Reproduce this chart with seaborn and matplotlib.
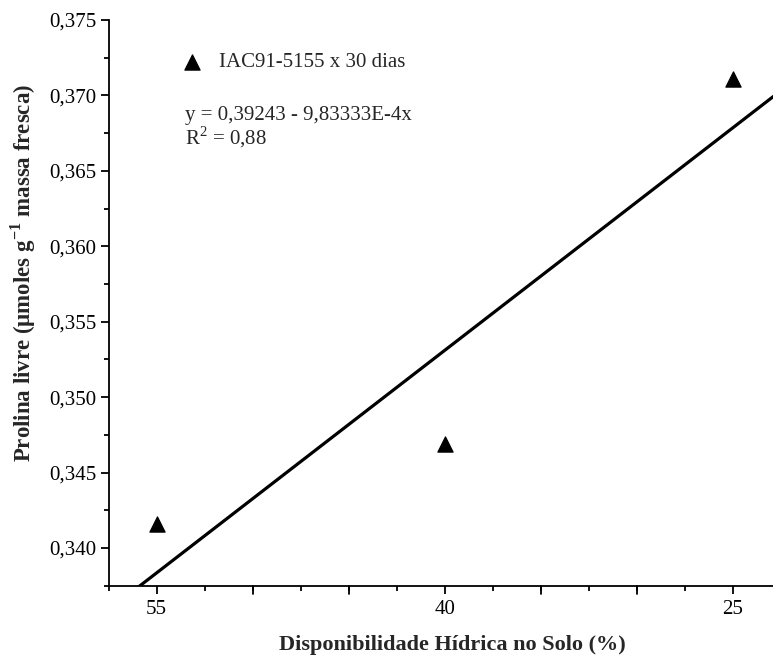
import numpy as np
import pandas as pd
import seaborn as sns
import matplotlib.pyplot as plt
from matplotlib.ticker import MultipleLocator, FixedLocator, FuncFormatter

# data
disponibilidade = [55, 40, 25]
prolina = [0.3416, 0.3469, 0.3711]
serie = "IAC91-5155 x 30 dias"
a, b = 0.39243, -9.83333e-4
eq_text = "y = 0,39243 - 9,83333E-4x"
r2_text = "R$^2$ = 0,88"

sns.set_style("ticks")
plt.rcParams['font.family'] = ['Liberation Serif', 'DejaVu Serif']
plt.rcParams['mathtext.fontset'] = 'custom'
plt.rcParams['mathtext.rm'] = 'Liberation Serif'
plt.rcParams['mathtext.bf'] = 'Liberation Serif:bold'

df = pd.DataFrame({"x": disponibilidade, "y": prolina, "serie": serie})
fit_x = np.array([58.0, 22.0])
fit = pd.DataFrame({"x": fit_x, "y": a + b * fit_x})

fig = plt.figure(figsize=(7.73, 6.56), dpi=100)
ax = fig.add_axes([0.1405, 0.1072, 0.8595, 0.8623])

sns.lineplot(data=fit, x="x", y="y", color="black", linewidth=2.3, ax=ax)
sns.scatterplot(data=df, x="x", y="y", marker="^", s=120, color="black",
                edgecolor="black", label=serie, ax=ax, zorder=3)

ax.set_xlim(57.5, 22.9)
ax.set_ylim(0.3375, 0.375)

ax.xaxis.set_major_locator(FixedLocator([55, 40, 25]))
ax.xaxis.set_minor_locator(MultipleLocator(2.5))
ax.yaxis.set_major_locator(MultipleLocator(0.005))
ax.yaxis.set_minor_locator(MultipleLocator(0.0025))
ax.yaxis.set_major_formatter(FuncFormatter(lambda v, p: f"{v:.3f}".replace(".", ",")))

ax.tick_params(axis="both", which="major", length=6, width=1.3, labelsize=15,
               colors="black", direction="out")
ax.tick_params(axis="y", which="major", pad=3)
ax.tick_params(axis="x", which="major", pad=4)
ax.tick_params(axis="both", which="minor", length=3.5, width=1.3, colors="black",
               direction="out")
# major-length ticks every 5 units on x without labels
for v in [50, 45, 35, 30]:
    ax.axvline(v, ymin=-0.0145, ymax=0, color="black", lw=1.3, clip_on=False)

for side in ["top", "right"]:
    ax.spines[side].set_visible(False)
for side in ["left", "bottom"]:
    ax.spines[side].set_linewidth(1.3)
    ax.spines[side].set_color("black")

ax.set_xlabel("Disponibilidade Hídrica no Solo (%)", fontsize=16,
              fontweight="bold", va="center")
ax.xaxis.set_label_coords(0.518, -0.105)
ax.set_ylabel(r"Prolina livre (μmoles g$^{\mathbf{-1}}$ massa fresca)",
              fontsize=16.5, fontweight="bold", va="center", ha="center")
ax.yaxis.set_label_coords(-0.129, 0.5536)

leg = ax.legend(loc="upper left", bbox_to_anchor=(0.094, 0.942), frameon=False,
                fontsize=15, handletextpad=0.3, handlelength=2.0,
                borderaxespad=0, borderpad=0, markerscale=1.0)

ax.text(0.115, 0.832, eq_text, transform=ax.transAxes, fontsize=15, va="center")
ax.text(0.115, 0.793, r2_text, transform=ax.transAxes, fontsize=15, va="center")

fig.savefig("out.png", dpi=100)
